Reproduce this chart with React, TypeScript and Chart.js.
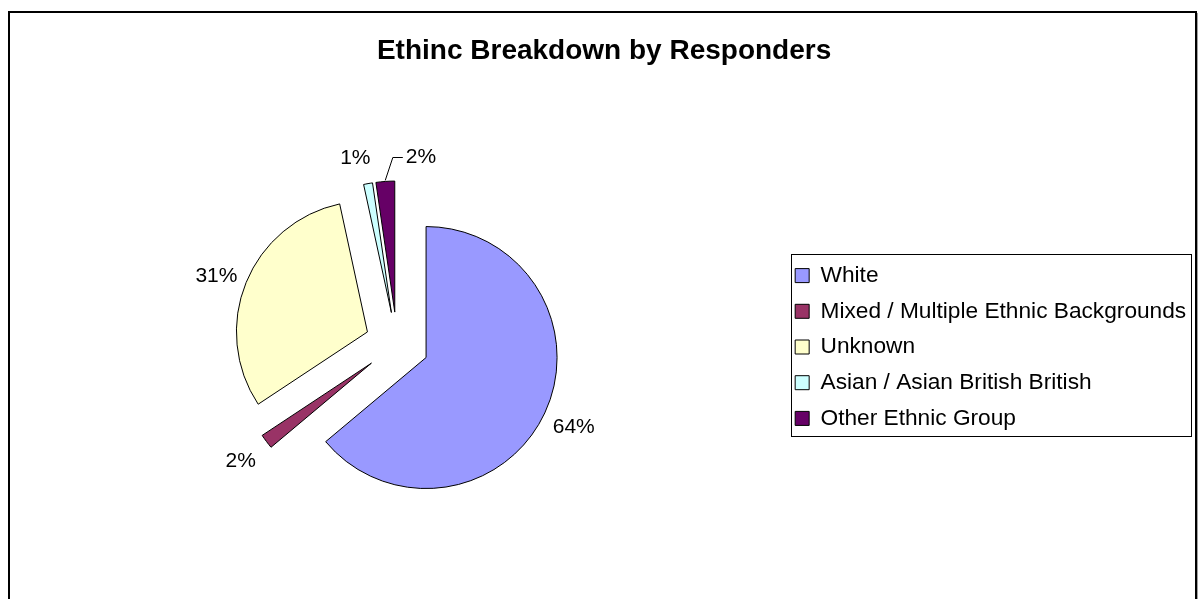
import React, { useEffect, useRef } from "react";
import { Chart, registerables } from "chart.js";

Chart.register(...registerables);

const TITLE = "Ethinc Breakdown by Responders";
const categories = [
  "White",
  "Mixed / Multiple Ethnic Backgrounds",
  "Unknown",
  "Asian / Asian British British",
  "Other Ethnic Group",
];
const values = [63.9, 1.8, 30.9, 1.1, 2.3];
const colors = ["#9999FF", "#993366", "#FFFFCC", "#CCFFFF", "#660066"];
const labelNudgeX = [0, 0, 0, -7, 38];
const labelNudgeY = [1, 1, 6, 6, 8];
const leaderLines = [false, false, false, false, true];

const FONT = "'Liberation Sans', Arial, Helvetica, sans-serif";
const EXPLODE = 32;
const RADIUS = 131;
const LABEL_GAP = 32;

const framePlugin = {
  id: "frame",
  beforeDraw(chart: any) {
    const ctx = chart.ctx;
    ctx.save();
    ctx.fillStyle = "#000";
    ctx.fillRect(8, 11, 1189, 2);
    ctx.fillRect(8, 11, 2, 600);
    ctx.fillRect(1195, 11, 2, 600);
    ctx.fillStyle = "#a0a0a0";
    ctx.fillRect(1197, 13, 1, 600);
    ctx.restore();
  },
};

const explodeLabelPlugin = {
  id: "explodeLabels",
  beforeDatasetsDraw(chart: any) {
    const meta = chart.getDatasetMeta(0);
    meta.data.forEach((arc: any) => {
      const mid = (arc.startAngle + arc.endAngle) / 2;
      arc.x += Math.cos(mid) * EXPLODE;
      arc.y += Math.sin(mid) * EXPLODE;
    });
  },
  afterDatasetsDraw(chart: any) {
    const ctx = chart.ctx;
    const meta = chart.getDatasetMeta(0);
    const total = values.reduce((a, b) => a + b, 0);
    ctx.save();
    ctx.font = `21px ${FONT}`;
    ctx.fillStyle = "#000";
    ctx.strokeStyle = "#000";
    ctx.lineWidth = 1;
    ctx.textAlign = "center";
    ctx.textBaseline = "middle";
    meta.data.forEach((arc: any, i: number) => {
      const mid = (arc.startAngle + arc.endAngle) / 2;
      const r = arc.outerRadius;
      const cx = arc.x + Math.cos(mid) * (r + LABEL_GAP) + labelNudgeX[i];
      const cy = arc.y + Math.sin(mid) * (r + LABEL_GAP) + labelNudgeY[i];
      const text = Math.round((values[i] / total) * 100) + "%";
      ctx.fillText(text, cx, cy);
      if (leaderLines[i]) {
        const w = ctx.measureText(text).width;
        const left = cx - w / 2;
        const sx = arc.x + Math.cos(mid) * (r + 1);
        const sy = arc.y + Math.sin(mid) * (r + 1);
        ctx.beginPath();
        ctx.moveTo(sx, sy);
        ctx.lineTo(left - 13, cy);
        ctx.lineTo(left - 3, cy);
        ctx.stroke();
      }
    });
    ctx.restore();
    meta.data.forEach((arc: any) => {
      const mid = (arc.startAngle + arc.endAngle) / 2;
      arc.x -= Math.cos(mid) * EXPLODE;
      arc.y -= Math.sin(mid) * EXPLODE;
    });
  },
};

const legendBorderPlugin = {
  id: "legendBorder",
  afterDraw(chart: any) {
    const lg = chart.legend;
    if (!lg || !lg.legendHitBoxes || !lg.legendHitBoxes.length) return;
    const hbs = lg.legendHitBoxes;
    const minL = Math.min(...hbs.map((h: any) => h.left));
    const maxW = Math.max(...hbs.map((h: any) => h.width));
    const top = hbs[0].top;
    const last = hbs[hbs.length - 1];
    const bottom = last.top + last.height;
    const ctx = chart.ctx;
    ctx.save();
    ctx.strokeStyle = "#000";
    ctx.lineWidth = 1;
    ctx.strokeRect(
      Math.round(minL - 4) + 0.5,
      Math.round(top - 10) + 0.5,
      Math.round(maxW + 9),
      Math.round(bottom - top + 17)
    );
    ctx.restore();
  },
};

export default function App() {
  const ref = useRef<HTMLCanvasElement | null>(null);
  useEffect(() => {
    if (!ref.current) return;
    const chart = new Chart(ref.current, {
      type: "pie",
      data: {
        labels: categories,
        datasets: [
          {
            data: values,
            backgroundColor: colors,
            borderColor: "#000",
            borderWidth: 1,
            hoverOffset: 0,
            radius: RADIUS,
          } as any,
        ],
      },
      options: {
        responsive: false,
        animation: false,
        devicePixelRatio: 1,
        events: [],
        layout: { padding: { left: 12, right: 2.8, top: 14, bottom: 0 } },
        plugins: {
          title: {
            display: true,
            text: TITLE,
            color: "#000",
            font: { family: FONT, size: 28, weight: "bold" },
            padding: { top: 20, bottom: 21.4 },
          },
          legend: {
            display: true,
            position: "right",
            align: "center",
            fullSize: false,
            title: {
              display: true,
              text: " ",
              font: { family: FONT, size: 5, lineHeight: 1.2 },
              padding: 0,
            },
            labels: {
              color: "#000",
              font: { family: FONT, size: 22.7 },
              boxWidth: 14,
              boxHeight: 14,
              padding: 13,
            },
          },
          tooltip: { enabled: false },
        },
      },
      plugins: [framePlugin, explodeLabelPlugin, legendBorderPlugin],
    });
    return () => chart.destroy();
  }, []);
  return (
    <div style={{ position: "fixed", left: 0, top: 0, width: 1199, height: 599, background: "#fff" }}>
      <canvas ref={ref} width={1199} height={599} style={{ display: "block" }} />
    </div>
  );
}
